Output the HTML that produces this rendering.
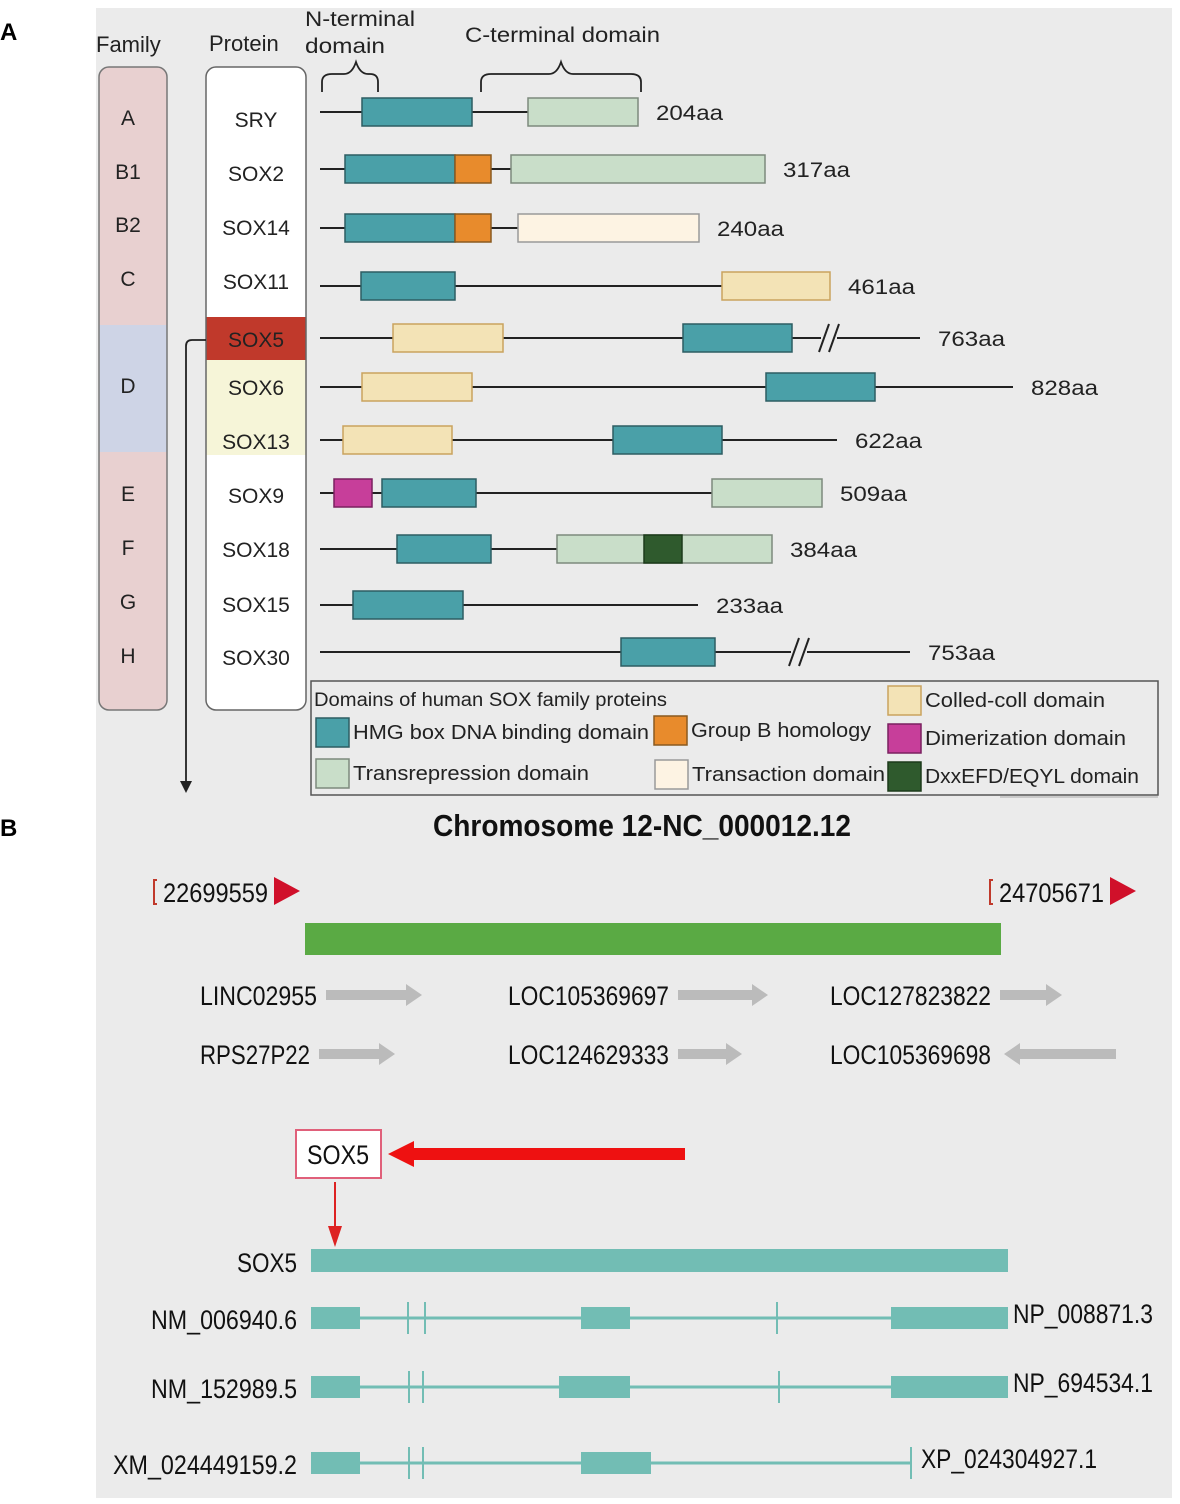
<!DOCTYPE html>
<html><head><meta charset="utf-8"><style>
html,body{margin:0;padding:0;background:#fff;}
svg{display:block;font-family:"Liberation Sans",sans-serif;}
</style></head><body>
<svg id="fig" width="1180" height="1504" viewBox="0 0 1180 1504" xmlns="http://www.w3.org/2000/svg">
<rect x="96" y="8" width="1076" height="1490" fill="#ebebeb"/>
<text x="0" y="40" font-size="24" font-weight="bold">A</text>
<text x="0" y="836" font-size="24" font-weight="bold">B</text>
<text x="96" y="52" font-size="22" fill="#222">Family</text>
<text x="209" y="51" font-size="22" fill="#222">Protein</text>
<text x="305" y="26" font-size="21" fill="#222" textLength="110" lengthAdjust="spacingAndGlyphs">N-terminal</text>
<text x="305" y="53" font-size="21" fill="#222" textLength="80" lengthAdjust="spacingAndGlyphs">domain</text>
<text x="465" y="42" font-size="21" fill="#222" textLength="195" lengthAdjust="spacingAndGlyphs">C-terminal domain</text>
<path d="M322,92 v-10 q0,-8 10,-8 h12 q8,0 12,-12 q4,12 12,12 h2 q8,0 8,8 v10" fill="none" stroke="#222" stroke-width="1.8"/>
<path d="M481,92 v-10 q0,-8 10,-8 h58 q8,0 12,-12 q4,12 12,12 h58 q10,0 10,8 v10" fill="none" stroke="#222" stroke-width="1.8"/>
<g id="family-col">
<clipPath id="fc"><rect x="99" y="67" width="68" height="643" rx="10"/></clipPath>
<g clip-path="url(#fc)">
<rect x="99" y="67" width="68" height="258" fill="#e8d0d0"/>
<rect x="99" y="325" width="68" height="127" fill="#ced4e6"/>
<rect x="99" y="452" width="68" height="258" fill="#e8d0d0"/>
</g>
<rect x="99" y="67" width="68" height="643" rx="10" fill="none" stroke="#777" stroke-width="1.5"/>
</g>
<g id="protein-col">
<clipPath id="pc"><rect x="206" y="67" width="100" height="643" rx="10"/></clipPath>
<g clip-path="url(#pc)">
<rect x="206" y="67" width="100" height="643" fill="#fff"/>
<rect x="206" y="317" width="100" height="43" fill="#c0392b"/>
<rect x="206" y="360" width="100" height="95" fill="#f6f5d8"/>
</g>
<rect x="206" y="67" width="100" height="643" rx="10" fill="none" stroke="#666" stroke-width="1.5"/>
</g>
<path d="M206,340 H192 q-6,0 -6,6 V782" fill="none" stroke="#222" stroke-width="1.8"/>
<polygon points="180,781 192,781 186,793" fill="#222"/>
<g id="rows"></g>
<g id="legend">
<rect x="311" y="681" width="847" height="114" fill="none" stroke="#555" stroke-width="1.5"/>
<line x1="1000" y1="797" x2="1158" y2="797" stroke="#aaa"/>
<text x="314" y="706" font-size="19" fill="#222" textLength="353" lengthAdjust="spacingAndGlyphs">Domains of human SOX family proteins</text>
</g>
<text x="642" y="836" font-size="31" font-weight="bold" text-anchor="middle" fill="#111" textLength="418" lengthAdjust="spacingAndGlyphs">Chromosome 12-NC_000012.12</text>
<g id="partb"></g>
</svg>
<script>
const NS="http://www.w3.org/2000/svg";
function mk(parent,tag,attrs,text){const e=document.createElementNS(NS,tag);for(const k in attrs)e.setAttribute(k,attrs[k]);if(text!==undefined)e.textContent=text;parent.appendChild(e);return e;}

// ---- Panel A data ----
const families=["A","B1","B2","C","D","E","F","G","H"];
const familyY=[117,171,224,278,385,493,547,601,655];
const proteins=["SRY","SOX2","SOX14","SOX11","SOX5","SOX6","SOX13","SOX9","SOX18","SOX15","SOX30"];
const lengthLabels=["204aa","317aa","240aa","461aa","763aa","828aa","622aa","509aa","384aa","233aa","753aa"];
const lineEnds=[208,191,198,402,600,693,517,392,237,378,590];
const breakAt=[null,null,null,null,505,null,null,null,null,null,475];
const domainStarts=[[42,208],[25,135,191],[25,135,198],[41,402],[73,363],[42,446],[23,293],[14,62,392],[77,237,324],[33],[301]];
const domainEnds=[[152,318],[135,171,445],[135,171,379],[135,510],[183,472],[152,555],[132,402],[52,156,502],[171,452,362],[143],[395]];
const domainTypes=[["hmg","trep"],["hmg","grpb","trep"],["hmg","grpb","tact"],["hmg","coil"],["coil","hmg"],["coil","hmg"],["coil","hmg"],["dim","hmg","trep"],["hmg","trep","dxx"],["hmg"],["hmg"]];
const rowY=[112,169,228,286,338,387,440,493,549,605,652];
const colors={hmg:"#4aa0a8",grpb:"#e88b2c",trep:"#c9dec9",tact:"#fdf3e3",coil:"#f3e3b6",dim:"#c73e9a",dxx:"#2f5a2d"};
const strokes={hmg:"#2c5d63",grpb:"#8a5a20",trep:"#7d8a7d",tact:"#999",coil:"#c9a35e",dim:"#7a2060",dxx:"#1c3a1b"};
const legendNames=["HMG box DNA binding domain","Group B homology","Colled-coll domain","Dimerization domain","Transrepression domain","Transaction domain","DxxEFD/EQYL domain"];
const legendTypes=["hmg","grpb","coil","dim","trep","tact","dxx"];
const legendX=[316,654,888,888,316,655,888];
const legendY=[718,716,686,724,759,760,762];
const legendW=[296,180,180,201,236,193,214];

const x0=320;
const sx=v=>x0+v;

const fam=document.getElementById("family-col");
families.forEach((f,i)=>{
  const t=mk(fam,"text",{x:128,y:familyY[i]+8,"font-size":21,"text-anchor":"middle",fill:"#222"},f);
  
  
});
const pc=document.getElementById("protein-col");
proteins.forEach((p,i)=>{
  const yy=[119,173,227,281,339,387,441,495,549,604,657][i];
  const t=mk(pc,"text",{x:256,y:yy+8,"font-size":21,"text-anchor":"middle",fill:"#222"},p);
  
  
});

const rows=document.getElementById("rows");
proteins.forEach((p,i)=>{
  const g=mk(rows,"g",{});
  
  
  const y=rowY[i];
  const end=sx(lineEnds[i]);
  if(breakAt[i]!==null){
    const b=sx(breakAt[i]);
    mk(g,"line",{x1:x0,y1:y,x2:b-4,y2:y,stroke:"#222","stroke-width":2});
    mk(g,"line",{x1:b+12,y1:y,x2:end,y2:y,stroke:"#222","stroke-width":2});
    mk(g,"line",{x1:b-6,y1:y+14,x2:b+4,y2:y-14,stroke:"#222","stroke-width":2});
    mk(g,"line",{x1:b+4,y1:y+14,x2:b+14,y2:y-14,stroke:"#222","stroke-width":2});
  } else {
    mk(g,"line",{x1:x0,y1:y,x2:end,y2:y,stroke:"#222","stroke-width":2});
  }
  domainStarts[i].forEach((s,j)=>{
    const ty=domainTypes[i][j];
    const r=mk(g,"rect",{x:sx(s),y:y-14,width:sx(domainEnds[i][j])-sx(s),height:28,fill:colors[ty],stroke:strokes[ty],"stroke-width":1.5});
    
    
  });
  const lx=(breakAt[i]!==null?end:Math.max(end,sx(Math.max(...domainEnds[i]))))+18;
  const t=mk(g,"text",{x:lx,y:y+8,"font-size":21,fill:"#222",textLength:67,lengthAdjust:"spacingAndGlyphs"},lengthLabels[i]);
  
  
});

const lg=document.getElementById("legend");
legendNames.forEach((n,i)=>{
  const ty=legendTypes[i];
  const r=mk(lg,"rect",{x:legendX[i],y:legendY[i],width:33,height:29,fill:colors[ty],stroke:strokes[ty],"stroke-width":1.5});
  
  
  const t=mk(lg,"text",{x:legendX[i]+37,y:legendY[i]+21,"font-size":20,fill:"#222",textLength:legendW[i],lengthAdjust:"spacingAndGlyphs"},n);
  
  
});

// ---- Panel B ----
const pb=document.getElementById("partb");
const cond=(x,y,s,len,txt,name,anchor)=>{const t=mk(pb,"text",{x:x,y:y,"font-size":s,fill:"#111",textLength:len,lengthAdjust:"spacingAndGlyphs","text-anchor":anchor||"start"},txt);return t;};
const coordLabels=["22699559","24705671"];
const coordX=[152,988];
coordLabels.forEach((c,i)=>{
  const x=coordX[i];
  mk(pb,"path",{d:`M${x+5},880 h-3 v24 h3`,fill:"none",stroke:"#c0392b","stroke-width":2});
  cond(x+11,902,27,105,c,'coordinate-'+(i?'end':'start'));
  const a=mk(pb,"polygon",{points:`${x+122},877 ${x+148},891 ${x+122},905`,fill:"#d0102a"});
  
  
});
const gb=mk(pb,"rect",{x:305,y:923,width:696,height:32,fill:"#5aaa44"});


const genes=["LINC02955","LOC105369697","LOC127823822","RPS27P22","LOC124629333","LOC105369698"];
const geneX=[200,508,830,200,508,830];
const geneY=[1005,1005,1005,1064,1064,1064];
const geneW=[117,161,161,110,161,161];
const arrowLen=[96,90,62,76,64,112];
const arrowDir=[1,1,1,1,1,-1];
genes.forEach((g,i)=>{
  cond(geneX[i],geneY[i],27,geneW[i],g,'gene-label-'+g.toLowerCase());
  const ax=geneX[i]+geneW[i]+9, cy=geneY[i]-10, L=arrowLen[i];
  let pts;
  if(arrowDir[i]>0) pts=`${ax},${cy-5} ${ax+L-16},${cy-5} ${ax+L-16},${cy-11} ${ax+L},${cy} ${ax+L-16},${cy+11} ${ax+L-16},${cy+5} ${ax},${cy+5}`;
  else {const s=ax+4; pts=`${s},${cy} ${s+16},${cy-11} ${s+16},${cy-5} ${s+L},${cy-5} ${s+L},${cy+5} ${s+16},${cy+5} ${s+16},${cy+11}`;}
  const a=mk(pb,"polygon",{points:pts,fill:"#bbbbbb"});
  
  
});
const bx=mk(pb,"rect",{x:296,y:1130,width:85,height:48,fill:"#fff",stroke:"#e0607a","stroke-width":2});


cond(338,1164,27,62,"SOX5",'sox5-callout-label','middle');
const ra=mk(pb,"polygon",{points:"685,1148 414,1148 414,1141 388,1154 414,1167 414,1160 685,1160",fill:"#ee1111"});


mk(pb,"line",{x1:335,y1:1182,x2:335,y2:1228,stroke:"#dd2222","stroke-width":2});
const da=mk(pb,"polygon",{points:"328,1226 342,1226 335,1247",fill:"#dd2222"});


const gx0=311, gx1=1008;
cond(297,1272,27,60,"SOX5",'sox5-gene-label','end');
const sb=mk(pb,"rect",{x:gx0,y:1249,width:gx1-gx0,height:23,fill:"#72bdb4"});


const transcripts=["NM_006940.6","NM_152989.5","XM_024449159.2"];
const proteinsB=["NP_008871.3","NP_694534.1","XP_024304927.1"];
const txY=[1318,1387,1463];
const txEnd=[1008,1008,911];
const exonStarts=[[311,581,891],[311,559,891],[311,581]];
const exonEnds=[[360,630,1008],[360,630,1008],[360,651]];
const tickX=[[408,425,777],[409,423,779],[409,423,911]];
const txLabelW=[146,146,184];
const protW=[140,140,176];
transcripts.forEach((t,i)=>{
  const y=txY[i];
  cond(297,y+11,27,txLabelW[i],t,'transcript-label-'+i,'end');
  const l=mk(pb,"line",{x1:gx0,y1:y,x2:txEnd[i],y2:y,stroke:"#72bdb4","stroke-width":3});
  
  
  exonStarts[i].forEach((s,j)=>{
    const r=mk(pb,"rect",{x:s,y:y-11,width:exonEnds[i][j]-s,height:22,fill:"#72bdb4"});
    
    
  });
  tickX[i].forEach(x=>{mk(pb,"line",{x1:x,y1:y-16,x2:x,y2:y+16,stroke:"#72bdb4","stroke-width":2});});
  cond(i<2?1013:921,y+5,27,protW[i],proteinsB[i],'protein-accession-'+i);
});
</script>
</body></html>
